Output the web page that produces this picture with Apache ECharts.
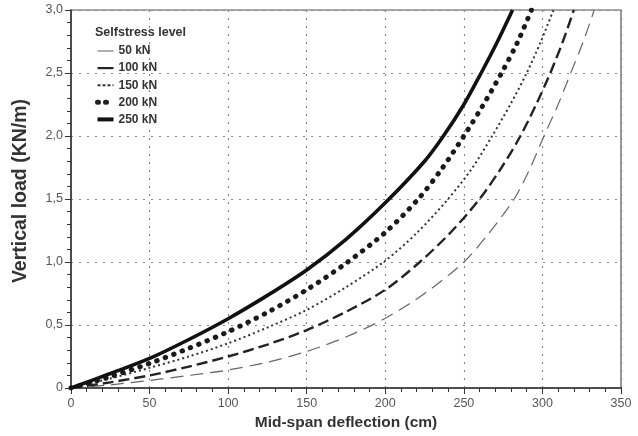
<!DOCTYPE html>
<html>
<head>
<meta charset="utf-8">
<title>Selfstress level</title>
<script src="https://cdn.jsdelivr.net/npm/echarts@6/dist/echarts.min.js"></script>
<style>
  html, body { margin: 0; padding: 0; background: #fff; }
  #chart { width: 638px; height: 436px; }
</style>
</head>
<body>
<div id="chart"></div>
<script>
  // mid-span deflection (cm) / vertical load (KN/m)
  var defl50 = [0, 25, 50, 75, 100, 125, 150, 175, 200, 225, 250, 266, 282, 292, 301, 310, 318, 326, 333]
  var load50 = [0, 0.025, 0.06, 0.1, 0.143, 0.205, 0.29, 0.405, 0.553, 0.75, 1.0, 1.23, 1.5, 1.74, 2.0, 2.25, 2.5, 2.75, 3.0]

  var defl100 = [0, 25, 50, 75, 100, 125, 150, 175, 200, 222, 242, 260, 274, 286, 296, 305, 313, 320]
  var load100 = [0, 0.045, 0.1, 0.17, 0.25, 0.345, 0.46, 0.605, 0.78, 1.0, 1.24, 1.5, 1.75, 2.0, 2.25, 2.5, 2.75, 3.0]

  var defl150 = [0, 25, 50, 75, 100, 125, 150, 175, 200, 220, 240, 255, 268, 280, 290, 299, 307]
  var load150 = [0, 0.075, 0.16, 0.25, 0.355, 0.48, 0.62, 0.8, 1.01, 1.23, 1.5, 1.74, 2.0, 2.26, 2.5, 2.75, 3.0]

  var defl200 = [0, 25, 50, 75, 100, 125, 150, 175, 200, 221, 236, 250, 262, 274, 284, 293]
  var load200 = [0, 0.09, 0.195, 0.315, 0.447, 0.6, 0.78, 0.99, 1.235, 1.5, 1.74, 2.0, 2.24, 2.5, 2.74, 3.0]

  var defl250 = [0, 25, 50, 75, 100, 125, 150, 175, 200, 225, 237, 250, 261, 271, 281]
  var load250 = [0, 0.115, 0.235, 0.385, 0.55, 0.735, 0.937, 1.18, 1.47, 1.8, 2.0, 2.25, 2.5, 2.74, 3.0]

  var levels = ['50 kN', '100 kN', '150 kN', '200 kN', '250 kN']

  function pairs(xs, ys) {
    return xs.map(function (x, i) { return [x, ys[i]] })
  }

  var ec = echarts.init(document.getElementById('chart'))

  var fontFam = 'Liberation Sans, Arial, sans-serif'
  var gridDots = { show: true, lineStyle: { color: '#888', width: 1.2, type: [2, 6] } }
  var labelFont = { color: '#555', fontSize: 12.5, fontFamily: fontFam }
  var noSymbol = { opacity: 0 }

  ec.setOption({
    animation: false,
    title: {
      text: 'Selfstress level',
      left: 90,
      top: 21,
      textStyle: { color: '#333', fontSize: 12.5, fontWeight: 'bold', fontFamily: fontFam }
    },
    legend: {
      orient: 'vertical',
      left: 90,
      top: 40,
      itemWidth: 16,
      itemHeight: 8,
      itemGap: 5.1,
      textStyle: { color: '#333', fontSize: 12, fontWeight: 'bold', fontFamily: fontFam },
      data: [
        { name: levels[0], itemStyle: noSymbol, lineStyle: { type: 'solid', width: 1.2, color: '#777' } },
        { name: levels[1], itemStyle: noSymbol, lineStyle: { type: 'solid', width: 2.2, color: '#222' } },
        { name: levels[2], itemStyle: noSymbol, lineStyle: { type: [3, 2], width: 2, color: '#333' } },
        { name: levels[3], itemStyle: noSymbol, lineStyle: { type: [1, 7], width: 5, cap: 'round', color: '#222' } },
        { name: levels[4], itemStyle: noSymbol, lineStyle: { type: 'solid', width: 4, color: '#111' } }
      ]
    },
    grid: {
      left: 71,
      right: 17,
      top: 10,
      bottom: 48,
      show: true,
      borderColor: '#555',
      borderWidth: 1.2,
      containLabel: false
    },
    xAxis: {
      type: 'value',
      min: 0,
      max: 350,
      interval: 50,
      name: 'Mid-span deflection (cm)',
      nameLocation: 'middle',
      nameGap: 21,
      nameTextStyle: { color: '#333', fontSize: 15.5, fontWeight: 'bold', fontFamily: fontFam },
      axisLine: { show: true, lineStyle: { color: '#333', width: 1.5 } },
      axisTick: { show: true, length: 6, lineStyle: { color: '#333' } },
      minorTick: { show: true, splitNumber: 5, length: 4, lineStyle: { color: '#333' } },
      axisLabel: Object.assign({ margin: 9 }, labelFont),
      splitLine: gridDots
    },
    yAxis: {
      type: 'value',
      min: 0,
      max: 3,
      interval: 0.5,
      name: 'Vertical load (KN/m)',
      nameLocation: 'middle',
      nameGap: 40,
      nameTextStyle: { color: '#333', fontSize: 19.5, fontWeight: 'bold', fontFamily: fontFam, padding: [0, 0, 0, 16] },
      axisLine: { show: true, lineStyle: { color: '#333', width: 1.5 } },
      axisTick: { show: true, length: 6, lineStyle: { color: '#333' } },
      minorTick: { show: true, splitNumber: 5, length: 4, lineStyle: { color: '#333' } },
      axisLabel: Object.assign({
        margin: 8,
        formatter: function (v) { return v === 0 ? '0' : v.toFixed(1).replace('.', ',') }
      }, labelFont),
      splitLine: gridDots
    },
    series: [
      {
        name: levels[0],
        type: 'line',
        smooth: 0.3,
        symbol: 'none',
        itemStyle: { color: '#666' },
        lineStyle: { color: '#666', width: 1.2, type: [13, 7] },
        data: pairs(defl50, load50)
      },
      {
        name: levels[1],
        type: 'line',
        smooth: 0.3,
        symbol: 'none',
        itemStyle: { color: '#222' },
        lineStyle: { color: '#222', width: 2.4, type: [11, 5] },
        data: pairs(defl100, load100)
      },
      {
        name: levels[2],
        type: 'line',
        smooth: 0.3,
        symbol: 'none',
        itemStyle: { color: '#333' },
        lineStyle: { color: '#333', width: 2, type: [2, 3] },
        data: pairs(defl150, load150)
      },
      {
        name: levels[3],
        type: 'line',
        smooth: 0.3,
        symbol: 'none',
        itemStyle: { color: '#1a1a1a' },
        lineStyle: { color: '#1a1a1a', width: 5, type: [0.5, 8.5], cap: 'round' },
        data: pairs(defl200, load200)
      },
      {
        name: levels[4],
        type: 'line',
        smooth: 0.3,
        symbol: 'none',
        itemStyle: { color: '#111' },
        lineStyle: { color: '#111', width: 3.6 },
        data: pairs(defl250, load250)
      }
    ]
  })

  window.addEventListener('resize', ec.resize)
</script>
</body>
</html>
